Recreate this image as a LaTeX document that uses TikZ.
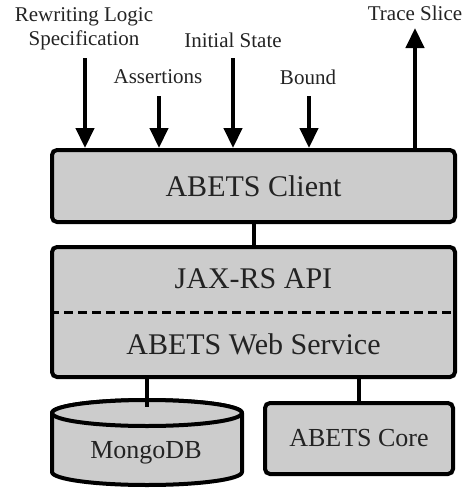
\documentclass[tikz,border=0pt]{standalone}
\usepackage{fontspec}
\setmainfont{Liberation Serif}
\usetikzlibrary{shapes.geometric, arrows.meta, positioning, calc}
\definecolor{boxgray}{RGB}{204,204,204}
\definecolor{inkgray}{RGB}{35,35,35}
\tikzset{
  tier_box/.style={rectangle, draw=black, fill=boxgray, line width=4pt, rounded corners=5pt, text=inkgray, font=\fontsize{30}{36}\selectfont},
  db_store/.style={draw=black, fill=boxgray, line width=4pt, line join=round},
  tier_text/.style={text=inkgray, font=\fontsize{30}{36}\selectfont},
  io_label/.style={text=inkgray, align=center, inner sep=0pt, font=\fontsize{21}{24}\selectfont},
  flow/.style={-{Triangle[length=20pt, width=18pt]}, line width=4.5pt, black},
  link/.style={-, line width=4pt, black},
  divider/.style={line width=3pt, dash pattern=on 9pt off 5pt, black}
}

\begin{document}
\begin{tikzpicture}[x=1pt, y=-1pt]

  \useasboundingbox (0,0) rectangle (469,488);

  % --- Tiers ---
  \node[tier_box, minimum width=403pt, minimum height=72pt] (client) at (253.5,186) {ABETS Client};
  \node[tier_box, minimum width=403pt, minimum height=130pt] (websvc) at (253.5,312) {};
  \node[tier_text] (jaxrs) at (253.5,279) {JAX-RS API};
  \node[tier_text] (svcname) at (253.5,344) {ABETS Web Service};
  \draw[divider] (websvc.west) -- (websvc.east);

  % --- Back end: database drum ---
  \def\dbX{147}
  \def\dbTop{413}
  \def\dbBot{472}
  \def\dbRx{95}
  \def\dbRy{13}
  \draw[db_store] (\dbX-\dbRx,\dbTop) -- (\dbX-\dbRx,\dbBot)
    arc[start angle=180, end angle=0, x radius=\dbRx, y radius=\dbRy]
    -- (\dbX+\dbRx,\dbTop)
    arc[start angle=0, end angle=-180, x radius=\dbRx, y radius=\dbRy] -- cycle;
  \draw[db_store] (\dbX,\dbTop) ellipse[x radius=\dbRx, y radius=\dbRy];
  \coordinate (mongo_top) at (\dbX,\dbTop-\dbRy);
  \node[tier_text, font=\fontsize{26}{30}\selectfont] (mongo) at (146,453) {MongoDB};

  \node[tier_box, minimum width=188pt, minimum height=71pt, font=\fontsize{26}{30}\selectfont] (core) at (359,438.5) {ABETS Core};

  \draw[link] (client.south) -- (websvc.north);
  \draw[link, shorten >=-7pt] (websvc.south -| mongo_top) -- (mongo_top);
  \draw[link] (websvc.south -| core.north) -- (core.north);

  % --- Inputs and output ---
  \node[io_label] (spec) at (84,29) {Rewriting Logic\\Specification};
  \node[io_label] (init) at (233,40) {Initial State};
  \node[io_label] (asrt) at (158,77) {Assertions};
  \node[io_label] (bound) at (308,77) {Bound};
  \node[io_label] (slice) at (415,13) {Trace Slice};

  \coordinate (spec_in) at (85,58);
  \coordinate (init_in) at (233,58);
  \coordinate (asrt_in) at (159,96);
  \coordinate (bound_in) at (309,96);
  \coordinate (slice_out) at (415,28);

  \foreach \c in {spec_in, asrt_in, init_in, bound_in} {
    \draw[flow] (\c) -- (\c |- client.north);
  }
  \draw[flow] (slice_out |- client.north) -- (slice_out);

\end{tikzpicture}
\end{document}
